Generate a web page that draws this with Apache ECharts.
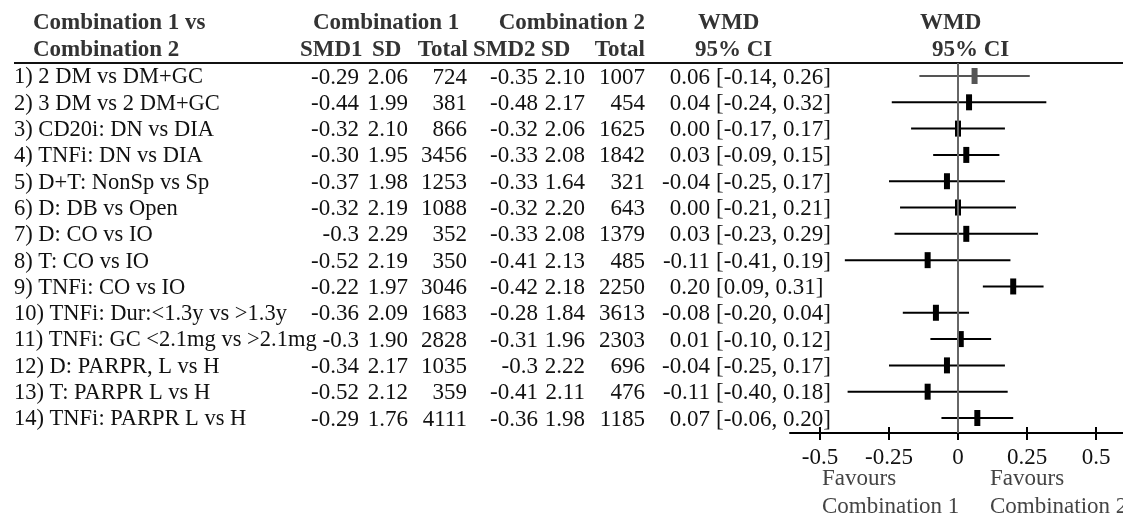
<!DOCTYPE html>
<html>
<head>
<meta charset="utf-8">
<script src="https://cdn.jsdelivr.net/npm/echarts@6/dist/echarts.min.js"></script>
<style>
html,body{margin:0;padding:0;background:#fff;}
#chart{width:1123px;height:516px;}
</style>
</head>
<body>
<div id="chart"></div>
<script>
// ---- data ----
const labels = ["1) 2 DM vs DM+GC", "2) 3 DM vs 2 DM+GC", "3) CD20i: DN vs DIA", "4) TNFi: DN vs DIA",
  "5) D+T: NonSp vs Sp", "6) D: DB vs Open", "7) D: CO vs IO", "8) T: CO vs IO", "9) TNFi: CO vs IO",
  "10) TNFi: Dur:<1.3y vs >1.3y", "11) TNFi: GC <2.1mg vs >2.1mg", "12) D: PARPR, L vs H",
  "13) T: PARPR L vs H", "14) TNFi: PARPR L vs H"];
const smd1 = ["-0.29","-0.44","-0.32","-0.30","-0.37","-0.32","-0.3","-0.52","-0.22","-0.36","-0.3","-0.34","-0.52","-0.29"];
const sd1 = ["2.06","1.99","2.10","1.95","1.98","2.19","2.29","2.19","1.97","2.09","1.90","2.17","2.12","1.76"];
const total1 = [724,381,866,3456,1253,1088,352,350,3046,1683,2828,1035,359,4111];
const smd2 = ["-0.35","-0.48","-0.32","-0.33","-0.33","-0.32","-0.33","-0.41","-0.42","-0.28","-0.31","-0.3","-0.41","-0.36"];
const sd2 = ["2.10","2.17","2.06","2.08","1.64","2.20","2.08","2.13","2.18","1.84","1.96","2.22","2.11","1.98"];
const total2 = [1007,454,1625,1842,321,643,1379,485,2250,3613,2303,696,476,1185];
const wmd = [0.06,0.04,0.00,0.03,-0.04,0.00,0.03,-0.11,0.20,-0.08,0.01,-0.04,-0.11,0.07];
const ciLow = [-0.14,-0.24,-0.17,-0.09,-0.25,-0.21,-0.23,-0.41,0.09,-0.20,-0.10,-0.25,-0.40,-0.06];
const ciHigh = [0.26,0.32,0.17,0.15,0.17,0.21,0.29,0.19,0.31,0.04,0.12,0.17,0.18,0.20];
const xTicks = [-0.5,-0.25,0,0.25,0.5];

// ---- styling ----
const FONT = '"Liberation Serif","Times New Roman",serif';
const FS = 23;
const txtColor = '#111';
const hdrColor = '#333';

const chart = echarts.init(document.getElementById('chart'), null, {renderer:'canvas'});

// table columns: [array, anchor x (table axis units = px), align]
const columns = [
  {vals: labels, x: 14, align: 'left', fs: 22.5},
  {vals: smd1, x: 359, align: 'right'},
  {vals: sd1, x: 408, align: 'right'},
  {vals: total1.map(String), x: 467, align: 'right'},
  {vals: smd2, x: 538, align: 'right'},
  {vals: sd2, x: 585, align: 'right'},
  {vals: total2.map(String), x: 645, align: 'right'},
  {vals: wmd.map(v => v.toFixed(2)), x: 710, align: 'right'},
  {vals: ciLow.map((l, i) => '[' + l.toFixed(2) + ', ' + ciHigh[i].toFixed(2) + ']'), x: 716, align: 'left'}
];

const rowIdx = labels.map((_, i) => i);

const tableSeries = columns.map(col => ({
  type: 'custom',
  xAxisIndex: 1, yAxisIndex: 1,
  silent: true,
  clip: false,
  data: rowIdx.map(i => [col.x, i]),
  renderItem: function (params, api) {
    const i = api.value(1);
    const p = api.coord([api.value(0), i]);
    return {
      type: 'text',
      x: p[0], y: p[1] + 1.5,
      style: {
        text: col.vals[i],
        textAlign: col.align,
        textVerticalAlign: 'middle',
        font: (col.fs || FS) + 'px ' + FONT,
        fill: txtColor
      }
    };
  }
}));

const forestSeries = {
  type: 'custom',
  xAxisIndex: 0, yAxisIndex: 0,
  clip: false,
  silent: true,
  data: rowIdx.map(i => [wmd[i], i, ciLow[i], ciHigh[i]]),
  renderItem: function (params, api) {
    const i = api.value(1);
    const c = api.coord([api.value(0), i]);
    const l = api.coord([api.value(2), i]);
    const h = api.coord([api.value(3), i]);
    const col = i === 0 ? '#555' : '#000';
    return {
      type: 'group',
      children: [
        {type: 'line', shape: {x1: l[0], y1: l[1], x2: h[0], y2: h[1]}, style: {stroke: col, lineWidth: 2}},
        {type: 'rect', shape: {x: c[0] - 3, y: c[1] - 8, width: 6, height: 16}, style: {fill: col}}
      ]
    };
  },
  markLine: {
    silent: true,
    symbol: 'none',
    label: {show: false},
    lineStyle: {color: '#666', width: 2, type: 'solid'},
    data: [{xAxis: 0}],
    animation: false
  },
  z: 3
};

const yCommon = {type: 'value', min: -0.494, max: 13.57, inverse: true, show: false};

function hdr(text, x, y, align, fs) {
  return {type: 'text', x: x, y: y, style: {text: text, font: 'bold ' + (fs || FS) + 'px ' + FONT, fill: hdrColor, textAlign: align || 'left', textVerticalAlign: 'middle'}};
}
function plain(text, x, y, color) {
  return {type: 'text', x: x, y: y, style: {text: text, font: FS + 'px ' + FONT, fill: color || '#444', textAlign: 'left', textVerticalAlign: 'middle'}};
}

const option = {
  animation: false,
  backgroundColor: '#fff',
  grid: [
    {left: 790, top: 63, width: 333, height: 370},
    {left: 0, top: 63, width: 790, height: 370},
    {left: 790, top: 433, width: 333, height: 20}
  ],
  xAxis: [
    {
      type: 'value', gridIndex: 0, min: -0.6087, max: 0.5978,
      splitLine: {show: false},
      axisLine: {show: true, onZero: false, lineStyle: {color: '#000', width: 2}},
      axisTick: {show: true, customValues: xTicks, length: 7, lineStyle: {color: '#000', width: 2}},
      axisLabel: {show: true, customValues: xTicks, margin: 13, color: '#111', fontSize: FS, fontFamily: FONT,
        formatter: v => String(v)}
    },
    {type: 'value', gridIndex: 1, min: 0, max: 790, show: false},
    {
      type: 'value', gridIndex: 2, min: -0.6087, max: 0.5978, position: 'top',
      splitLine: {show: false},
      axisLine: {show: false, onZero: false},
      axisTick: {show: true, inside: false, customValues: xTicks, length: 6, lineStyle: {color: '#000', width: 2}},
      axisLabel: {show: false}
    }
  ],
  yAxis: [
    Object.assign({gridIndex: 0}, yCommon),
    Object.assign({gridIndex: 1}, yCommon),
    {type: 'value', gridIndex: 2, show: false}
  ],
  graphic: [
    {type: 'line', shape: {x1: 14, y1: 63, x2: 1123, y2: 63}, style: {stroke: '#111', lineWidth: 2}},
    hdr('Combination 1 vs', 33, 23),
    hdr('Combination 2', 33, 50),
    hdr('Combination 1', 313, 23),
    hdr('Combination 2', 645, 23, 'right'),
    hdr('SMD1', 300, 50),
    hdr('SD', 372, 50),
    hdr('Total', 468, 50, 'right'),
    hdr('SMD2', 473, 50),
    hdr('SD', 541, 50),
    hdr('Total', 645, 50, 'right'),
    hdr('WMD', 698, 23),
    hdr('95% CI', 695, 50),
    hdr('WMD', 920, 23),
    hdr('95% CI', 932, 50),
    plain('Favours', 822, 479),
    plain('Combination 1', 822, 507),
    plain('Favours', 990, 479),
    plain('Combination 2', 990, 507)
  ],
  series: [forestSeries].concat(tableSeries)
};

chart.setOption(option);
</script>
</body>
</html>
